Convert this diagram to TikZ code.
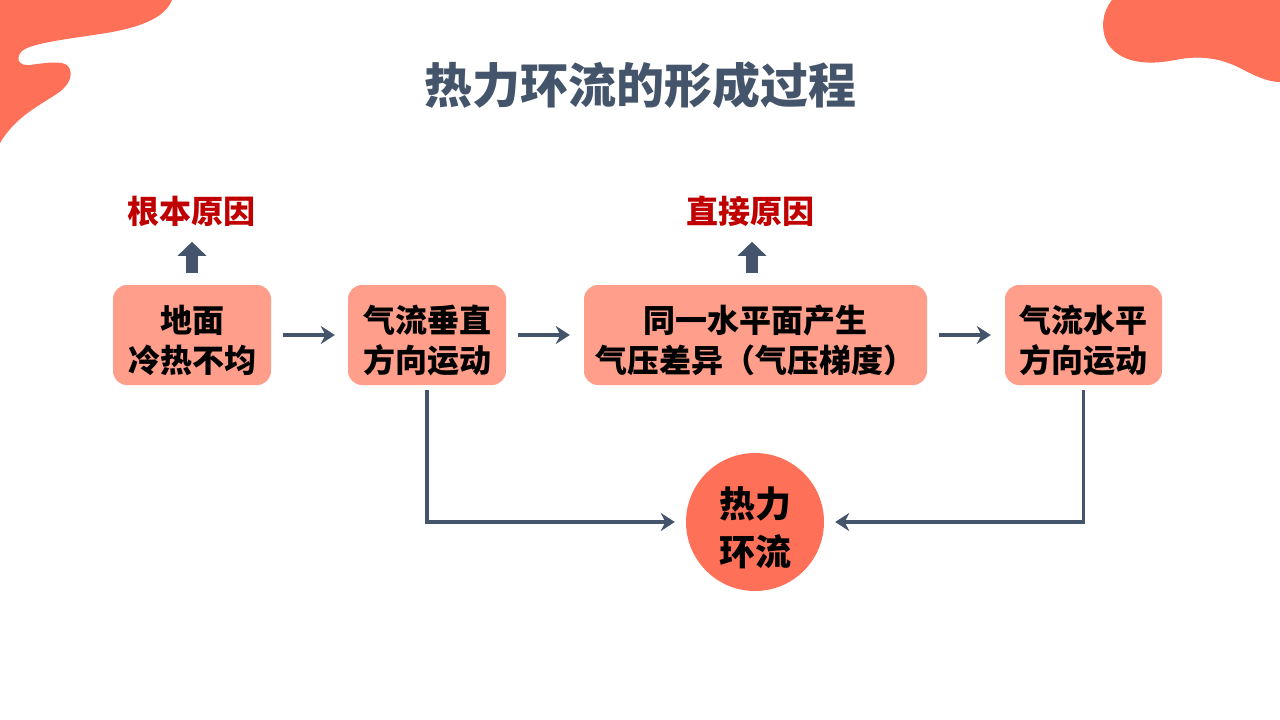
\documentclass[tikz,border=0pt]{standalone}
\usepackage{fontspec}
\setmainfont{Noto Sans CJK SC}
\usetikzlibrary{arrows.meta,calc}
\definecolor{slate}{HTML}{44546A}
\definecolor{darkred}{HTML}{C00000}
\definecolor{boxfill}{HTML}{FF9E8B}
\definecolor{coral}{HTML}{FF7059}
\tikzset{
  stepbox/.style={draw=none, fill=boxfill, rounded corners=14pt, minimum height=100pt, align=center, inner sep=0pt,
    font=\fontsize{32}{40}\selectfont\bfseries, text=black, text height=78pt},
  causelabel/.style={text=darkred, font=\fontsize{32}{38}\selectfont\bfseries, inner sep=0pt},
  conn/.style={draw=slate, line width=3.2pt, -{Stealth[length=14pt,width=18pt,inset=4.5pt]}},
  blockarrow/.style={draw=slate, line width=12pt, -{Triangle[length=14pt,width=28pt]}},
  blob/.style={fill=coral, draw=none}
}
\begin{document}
\begin{tikzpicture}[x=1pt,y=-1pt]
\useasboundingbox (0,0) rectangle (1280,720);
\fill[white] (0,0) rectangle (1280,720);
% corner blobs
\fill[blob] (0,0) -- (172,0) .. controls (165,18) and (140,28) .. (100,34)
  .. controls (60,40) and (28,44) .. (21,52) .. controls (15,60) and (20,66) .. (30,65)
  .. controls (45,63) and (62,60) .. (68,66) .. controls (74,74) and (70,86) .. (55,95)
  .. controls (35,108) and (15,118) .. (0,143) -- cycle;
\fill[blob] (1112,0) .. controls (1102,12) and (1100,30) .. (1108,44)
  .. controls (1120,62) and (1145,66) .. (1175,60) .. controls (1200,55) and (1220,58) .. (1240,68)
  .. controls (1255,76) and (1268,82) .. (1280,82) -- (1280,0) -- cycle;
% title
\node[text=slate, font=\fontsize{48}{56}\selectfont\bfseries, inner sep=0pt] (title) at (640,85) {热力环流的形成过程};
% boxes
\node[stepbox, minimum width=158pt] (b1) at (192,335) {地面\\冷热不均};
\node[stepbox, minimum width=158pt] (b2) at (427,335) {气流垂直\\方向运动};
\node[stepbox, minimum width=343pt] (b3) at (755.5,335) {同一水平面产生\\气压差异（气压梯度）};
\node[stepbox, minimum width=157pt] (b4) at (1083.5,335) {气流水平\\方向运动};
\node[circle, fill=coral, minimum size=138pt, inner sep=0pt, align=center, text height=90pt,
  font=\fontsize{36}{48}\selectfont\bfseries] (c) at (755,522) {热力\\环流};
% labels
\node[causelabel] (l1) at (191,211) {根本原因};
\node[causelabel] (l2) at (750,211) {直接原因};
% block arrows
\draw[blockarrow] ($(b1.north)+(0,-12)$) -- ($(b1.north)+(0,-43)$);
\draw[blockarrow] ($(b3.north)+(-3.5,-12)$) -- ($(b3.north)+(-3.5,-43)$);
% connectors
\draw[conn, shorten <=12pt, shorten >=13pt] (b1) -- (b2);
\draw[conn, shorten <=12pt, shorten >=14pt] (b2) -- (b3);
\draw[conn, shorten <=12pt, shorten >=14pt] (b3) -- (b4);
\draw[conn, shorten <=5pt, shorten >=11pt] (b2.south) |- (c.west);
\draw[conn, shorten <=5pt, shorten >=11pt] (b4.south) |- (c.east);
\end{tikzpicture}
\end{document}
